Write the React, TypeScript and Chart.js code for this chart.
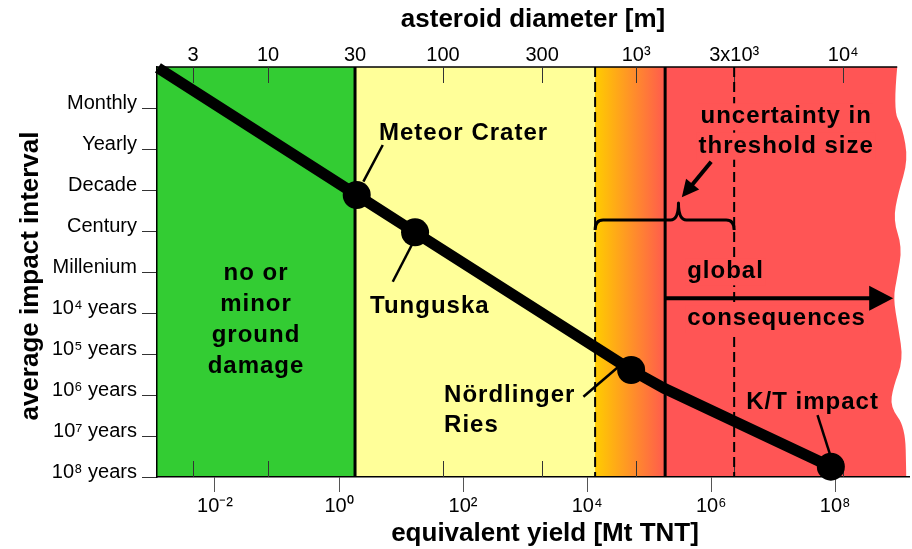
import { useEffect, useRef } from "react";
import { Chart, registerables } from "chart.js";

Chart.register(...registerables);

const FONT = '"Liberation Sans", Arial, Helvetica, sans-serif';

// ---- axes (x = log10 of equivalent yield in Mt TNT, y = impact interval rows; Monthly drawn at -1) ----
const yieldMin = -2.935;
const yieldMax = 9.19;
const intervalMin = -2;
const intervalMax = 8;

const yieldTickExp = [-2, 0, 2, 4, 6, 8];
const yieldTickLabels = ["10⁻²", "10⁰", "10²", "10⁴", "10⁶", "10⁸"];

const diameterTickLabels = ["3", "10", "30", "100", "300", "10³", "3x10³", "10⁴"];
const diameterTickYield = [-2.355, -1.145, 0.258, 1.677, 3.274, 4.79, 6.371, 8.129];

const intervalTickValues = [-1, 0, 1, 2, 3, 4, 5, 6, 7, 8];
const intervalTickLabels = [
  "Monthly", "Yearly", "Decade", "Century", "Millenium",
  "10⁴ years", "10⁵ years", "10⁶ years", "10⁷ years", "10⁸ years",
];

// ---- impact curve ----
const curveYield = [-2.92, 0.285, 1.226, 4.71, 5.258, 7.93];
const curveInterval = [-1.98, 1.122, 2.032, 5.39, 5.85, 7.749];
const curveMarker = [false, true, true, true, false, true];

// ---- thresholds (in log10 yield) ----
const damageThreshold = 0.258;
const globalThresholdLow = 4.129;
const globalThreshold = 5.258;
const globalThresholdHigh = 6.371;

// ---- wavy right edge of the red zone ----
const waveInterval = [-2, -0.951, -0.537, 0.268, 1.073, 1.732, 2.39, 3.122, 3.634, 4.341, 5.146, 5.805, 6.293, 6.78, 7.902, 8.0];
const waveYield = [9.0, 8.935, 9.081, 9.177, 9.016, 8.935, 9.081, 9.0, 8.935, 9.016, 9.097, 8.935, 8.887, 9.129, 9.145, 9.145];

// ---- annotations ----
const noteTexts = [
  "Meteor Crater", "Tunguska", "no or", "minor", "ground", "damage",
  "Nördlinger", "Ries", "K/T impact", "uncertainty in", "threshold size", "global", "consequences",
];
const noteYield = [0.645, 0.5, -1.339, -1.339, -1.339, -1.339, 1.694, 1.694, 6.565, 7.21, 7.21, 5.613, 5.613];
const noteInterval = [-0.22, 4.007, 3.195, 3.944, 4.7, 5.471, 6.163, 6.895, 6.341, -0.627, 0.09, 3.154, 4.293];
const noteCentered = [false, false, true, true, true, true, false, false, false, true, true, false, false];
const noteBoxed = [false, false, false, false, false, false, false, false, false, true, true, true, true];

const leaderFromYield = [0.705, 1.173, 4.505, 7.715];
const leaderFromInterval = [-0.098, 2.341, 5.31, 6.488];
const leaderToYield = [0.392, 0.866, 3.94, 7.919];
const leaderToInterval = [0.797, 3.237, 6.041, 7.463];

const arrowFromYield = [5.258, 6.0];
const arrowFromInterval = [3.641, 0.31];
const arrowToYield = [8.935, 5.527];
const arrowToInterval = [3.641, 1.178];

const braceYield = [globalThresholdLow, 5.473, globalThresholdHigh];
const braceInterval = [1.976, 1.732, 1.317]; // ends, bar, peak

const COLORS = {
  green: "#33CC33",
  yellow: "#FFFF99",
  orange: "#FFCC00",
  redish: "#FF5A4E",
  red: "#FF5555",
};

function drawArrow(ctx: CanvasRenderingContext2D, x1: number, y1: number, x2: number, y2: number, len: number, half: number, lw: number) {
  const ang = Math.atan2(y2 - y1, x2 - x1);
  const bx = x2 - Math.cos(ang) * len;
  const by = y2 - Math.sin(ang) * len;
  ctx.lineWidth = lw;
  ctx.beginPath();
  ctx.moveTo(x1, y1);
  ctx.lineTo(bx + Math.cos(ang) * 2, by + Math.sin(ang) * 2);
  ctx.stroke();
  ctx.beginPath();
  ctx.moveTo(x2, y2);
  ctx.lineTo(bx + Math.sin(ang) * half, by - Math.cos(ang) * half);
  ctx.lineTo(bx - Math.sin(ang) * half, by + Math.cos(ang) * half);
  ctx.closePath();
  ctx.fill();
}

const decorPlugin = {
  id: "decor",
  beforeDraw(chart: any) {
    const { ctx, chartArea: a, scales } = chart;
    const X = (v: number) => scales.x.getPixelForValue(v);
    const Y = (u: number) => scales.y.getPixelForValue(u);
    const h = a.bottom - a.top;
    ctx.save();
    ctx.fillStyle = COLORS.green;
    ctx.fillRect(a.left, a.top, X(damageThreshold) - a.left + 1, h);
    ctx.fillStyle = COLORS.yellow;
    ctx.fillRect(X(damageThreshold), a.top, X(globalThresholdLow) - X(damageThreshold) + 1, h);
    const g = ctx.createLinearGradient(X(globalThresholdLow), 0, X(globalThreshold), 0);
    g.addColorStop(0, COLORS.orange);
    g.addColorStop(1, COLORS.redish);
    ctx.fillStyle = g;
    ctx.fillRect(X(globalThresholdLow), a.top, X(globalThreshold) - X(globalThresholdLow) + 1, h);
    // red zone with wavy edge
    const pts = waveYield.map((v, i) => [X(v), Y(waveInterval[i])]);
    ctx.fillStyle = COLORS.red;
    ctx.beginPath();
    ctx.moveTo(X(globalThreshold), a.top);
    ctx.lineTo(pts[0][0], pts[0][1]);
    for (let i = 1; i < pts.length - 1; i++) {
      const mx = (pts[i][0] + pts[i + 1][0]) / 2;
      const my = (pts[i][1] + pts[i + 1][1]) / 2;
      ctx.quadraticCurveTo(pts[i][0], pts[i][1], mx, my);
    }
    ctx.lineTo(pts[pts.length - 1][0], pts[pts.length - 1][1]);
    ctx.lineTo(X(globalThreshold), a.bottom);
    ctx.closePath();
    ctx.fill();
    ctx.restore();
  },
  beforeDatasetsDraw(chart: any) {
    const { ctx, chartArea: a, scales } = chart;
    const X = (v: number) => scales.x.getPixelForValue(v);
    const Y = (u: number) => scales.y.getPixelForValue(u);
    ctx.save();
    // top border up to the wavy edge
    ctx.strokeStyle = "#000";
    ctx.lineWidth = 1.5;
    ctx.beginPath();
    ctx.moveTo(a.left, a.top);
    ctx.lineTo(X(waveYield[0]), a.top);
    ctx.stroke();
    // inner diameter ticks (top and bottom)
    ctx.strokeStyle = "#333";
    ctx.lineWidth = 1;
    diameterTickYield.forEach((v) => {
      const x = Math.round(X(v)) + 0.5;
      ctx.beginPath();
      ctx.moveTo(x, a.top);
      ctx.lineTo(x, a.top + 16);
      ctx.moveTo(x, a.bottom);
      ctx.lineTo(x, a.bottom - 16);
      ctx.stroke();
    });
    // solid thresholds
    ctx.strokeStyle = "#000";
    ctx.lineWidth = 3;
    [damageThreshold, globalThreshold].forEach((v) => {
      ctx.beginPath();
      ctx.moveTo(X(v), a.top);
      ctx.lineTo(X(v), a.bottom);
      ctx.stroke();
    });
    // dashed thresholds
    ctx.lineWidth = 2;
    ctx.setLineDash([10, 5]);
    [globalThresholdLow, globalThresholdHigh].forEach((v) => {
      ctx.beginPath();
      ctx.moveTo(X(v), a.top);
      ctx.lineTo(X(v), a.bottom);
      ctx.stroke();
    });
    ctx.setLineDash([]);
    // curly brace
    const xl = X(braceYield[0]), xt = X(braceYield[1]), xr = X(braceYield[2]);
    const ye = Y(braceInterval[0]), yb = Y(braceInterval[1]), yp = Y(braceInterval[2]);
    const r = 8;
    ctx.lineWidth = 3;
    ctx.lineJoin = "round";
    ctx.beginPath();
    ctx.moveTo(xl, ye);
    ctx.quadraticCurveTo(xl, yb, xl + r, yb);
    ctx.lineTo(xt - r, yb);
    ctx.quadraticCurveTo(xt, yb, xt, yp);
    ctx.quadraticCurveTo(xt, yb, xt + r, yb);
    ctx.lineTo(xr - r, yb);
    ctx.quadraticCurveTo(xr, yb, xr, ye);
    ctx.stroke();
    ctx.restore();
  },
  afterDatasetsDraw(chart: any) {
    const { ctx, scales } = chart;
    const X = (v: number) => scales.x.getPixelForValue(v);
    const Y = (u: number) => scales.y.getPixelForValue(u);
    ctx.save();
    ctx.strokeStyle = "#000";
    ctx.fillStyle = "#000";
    ctx.lineCap = "butt";
    // leader lines
    ctx.lineWidth = 2.5;
    leaderFromYield.forEach((v, i) => {
      ctx.beginPath();
      ctx.moveTo(X(v), Y(leaderFromInterval[i]));
      ctx.lineTo(X(leaderToYield[i]), Y(leaderToInterval[i]));
      ctx.stroke();
    });
    // arrows
    drawArrow(ctx, X(arrowFromYield[0]), Y(arrowFromInterval[0]), X(arrowToYield[0]), Y(arrowToInterval[0]), 24, 12.5, 4);
    drawArrow(ctx, X(arrowFromYield[1]), Y(arrowFromInterval[1]), X(arrowToYield[1]), Y(arrowToInterval[1]), 17, 8.5, 4);
    // annotation texts
    ctx.font = `bold 24px ${FONT}`;
    (ctx as any).letterSpacing = "1px";
    ctx.textBaseline = "alphabetic";
    noteTexts.forEach((t, i) => {
      const x = X(noteYield[i]);
      const y = Y(noteInterval[i]);
      ctx.textAlign = noteCentered[i] ? "center" : "left";
      if (noteBoxed[i]) {
        const w = ctx.measureText(t).width;
        const x0 = noteCentered[i] ? x - w / 2 : x;
        ctx.fillStyle = COLORS.red;
        ctx.fillRect(x0 - 2, y - 20, w + 4, 27);
      }
      ctx.fillStyle = "#000";
      ctx.fillText(t, x, y);
    });
    (ctx as any).letterSpacing = "0px";
    ctx.restore();
  },
  afterDraw(chart: any) {
    const { ctx } = chart;
    ctx.save();
    ctx.fillStyle = "#000";
    ctx.font = `bold 26px ${FONT}`;
    ctx.textAlign = "center";
    ctx.textBaseline = "alphabetic";
    ctx.fillText("asteroid diameter [m]", 533, 27);
    ctx.fillText("equivalent yield [Mt TNT]", 545, 541);
    ctx.translate(38, 276);
    ctx.rotate(-Math.PI / 2);
    ctx.fillText("average impact interval", 0, 0);
    ctx.restore();
  },
};

export default function App() {
  const ref = useRef<HTMLCanvasElement | null>(null);
  useEffect(() => {
    if (!ref.current) return;
    const chart = new Chart(ref.current, {
      type: "line",
      data: {
        datasets: [
          {
            label: "impact frequency",
            data: curveYield.map((x, i) => ({ x, y: curveInterval[i] })),
            borderColor: "#000",
            borderWidth: 11,
            borderJoinStyle: "round",
            tension: 0,
            pointRadius: curveMarker.map((m) => (m ? 14 : 0)),
            pointHoverRadius: curveMarker.map((m) => (m ? 14 : 0)),
            pointBackgroundColor: "#000",
            pointBorderWidth: 0,
            xAxisID: "x",
            yAxisID: "y",
            clip: false,
          } as any,
        ],
      },
      options: {
        responsive: false,
        animation: false,
        devicePixelRatio: 1,
        events: [],
        layout: { autoPadding: false, padding: { left: 0, right: 3, top: 0, bottom: 0 } },
        plugins: { legend: { display: false }, tooltip: { enabled: false } },
        scales: {
          x: {
            type: "linear",
            position: "bottom",
            min: yieldMin,
            max: yieldMax,
            afterBuildTicks: (s: any) => {
              s.ticks = yieldTickExp.map((v) => ({ value: v }));
            },
            afterFit: (s: any) => {
              s.height = 72;
            },
            ticks: {
              autoSkip: false,
              maxRotation: 0,
              padding: 2,
              color: "#000",
              font: { family: FONT, size: 20 },
              callback: (v: any) => yieldTickLabels[yieldTickExp.indexOf(Number(v))] ?? "",
            },
            grid: { drawOnChartArea: false, drawTicks: true, tickLength: 15, color: "#555", lineWidth: 1 },
            border: { display: true, color: "#000", width: 1.5 },
          },
          x2: {
            type: "linear",
            axis: "x",
            position: "top",
            min: yieldMin,
            max: yieldMax,
            afterBuildTicks: (s: any) => {
              s.ticks = diameterTickYield.map((v) => ({ value: v }));
            },
            afterFit: (s: any) => {
              s.height = 67;
            },
            ticks: {
              autoSkip: false,
              maxRotation: 0,
              padding: 0,
              color: "#000",
              font: { family: FONT, size: 20 },
              callback: (v: any, i: number) => diameterTickLabels[i] ?? "",
            },
            grid: { display: false, drawOnChartArea: false, drawTicks: false },
            border: { display: false },
          },
          y: {
            type: "linear",
            position: "left",
            reverse: true,
            min: intervalMin,
            max: intervalMax,
            afterBuildTicks: (s: any) => {
              s.ticks = intervalTickValues.map((v) => ({ value: v }));
            },
            afterFit: (s: any) => {
              s.width = 157;
            },
            ticks: {
              autoSkip: false,
              padding: 5,
              labelOffset: -5,
              color: "#000",
              font: { family: FONT, size: 20 },
              callback: (v: any) => intervalTickLabels[intervalTickValues.indexOf(Number(v))] ?? "",
            },
            grid: { drawOnChartArea: false, drawTicks: true, tickLength: 15, color: "#333", lineWidth: 1 },
            border: { display: true, color: "#000", width: 1.5 },
          },
        },
      } as any,
      plugins: [decorPlugin],
    });
    return () => chart.destroy();
  }, []);
  return (
    <div style={{ position: "absolute", left: 0, top: 0, width: 912, height: 549, background: "#fff" }}>
      <canvas ref={ref} width={912} height={549} style={{ display: "block", width: 912, height: 549 }} />
    </div>
  );
}
